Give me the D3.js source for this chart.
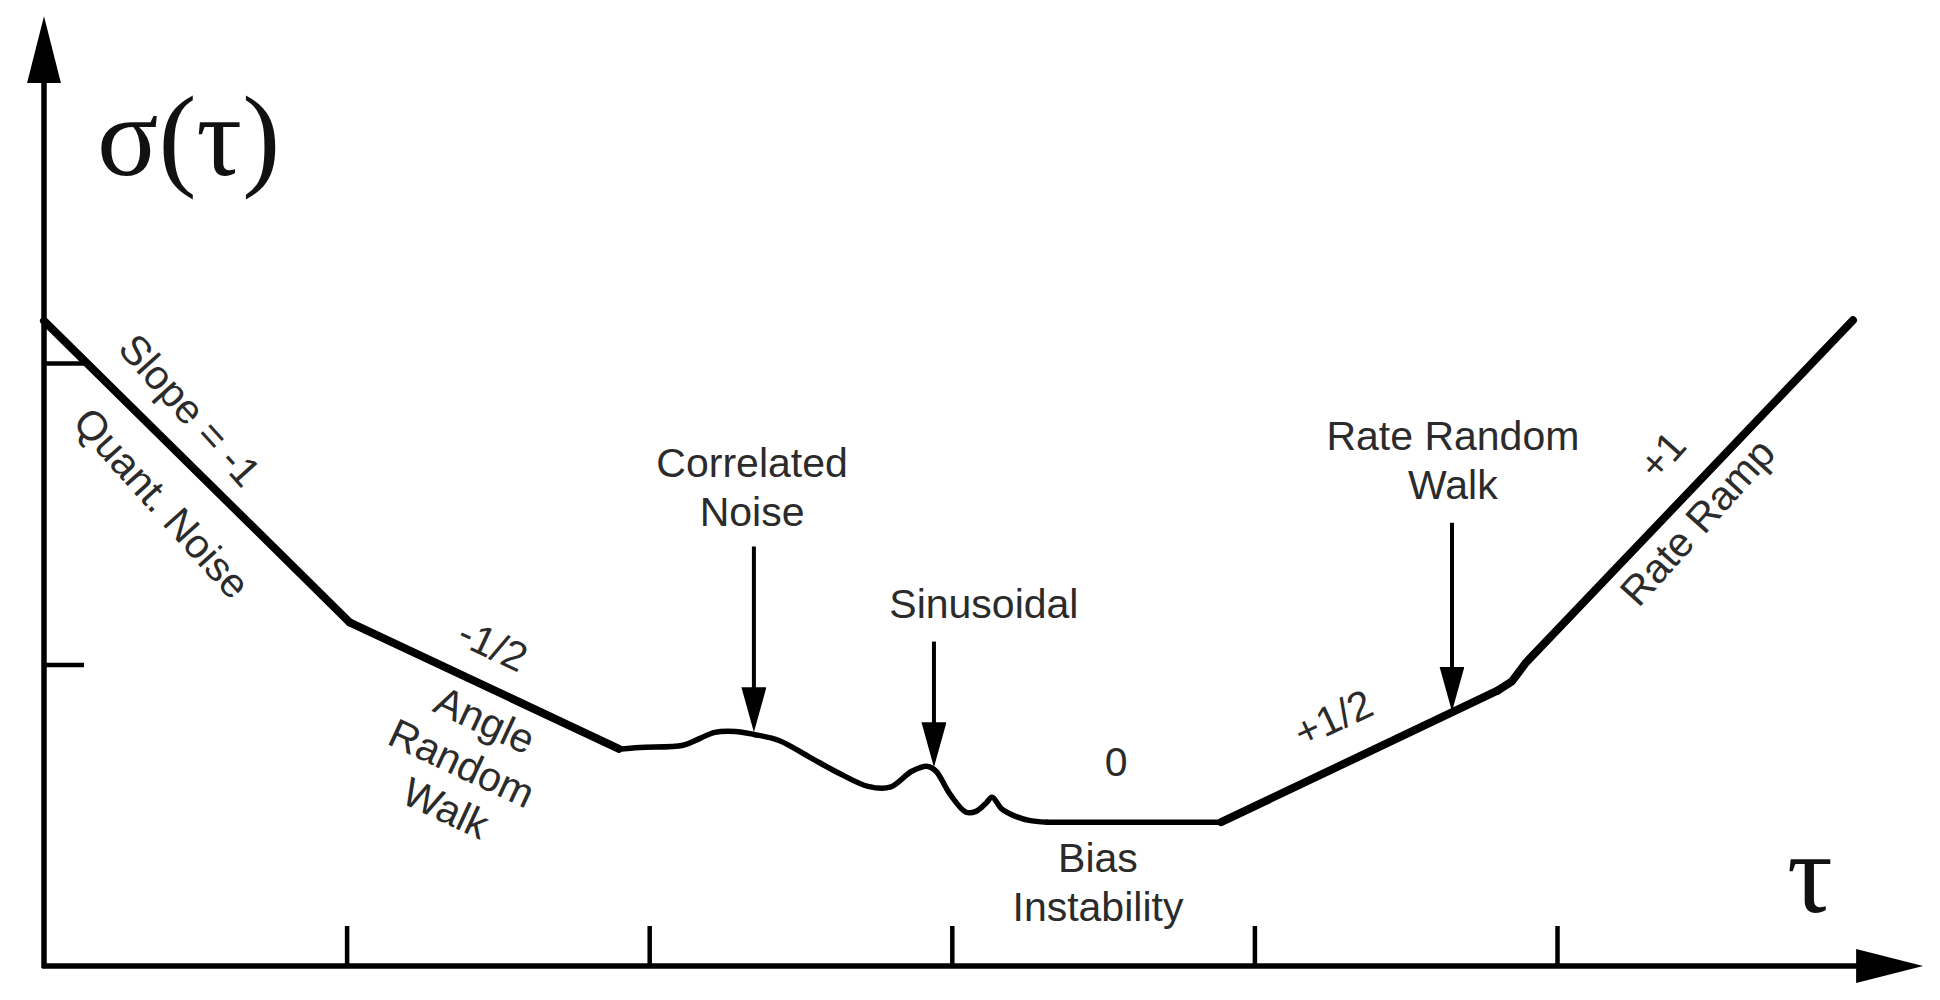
<!DOCTYPE html>
<html>
<head>
<meta charset="utf-8">
<script src="https://cdn.jsdelivr.net/npm/d3@7"></script>
<style>
  body { margin: 0; background: #fff; }
  .lbl { font-family: "Liberation Sans", Arial, Helvetica, sans-serif; font-size: 41px; fill: #2b2b2b; }
  .big { font-family: "Liberation Serif", "Times New Roman", serif; font-size: 114px; fill: #111; }
</style>
</head>
<body>
<svg id="chart" width="1940" height="1000"></svg>
<script>
// every value is in decades: [log10(tau), log10(sigma)]
const xTicks = [1, 2, 3, 4, 5];
const yTicks = [1, 2];
const xEnd = 6.21;   // arrow tip of the tau axis
const yEnd = 3.15;   // arrow tip of the sigma axis

// straight asymptotes (drawn heavy)
const quantNoise = [[0, 2.14], [1.01, 1.14]];
const angleRW = [[1.01, 1.14], [1.90, 0.72]];
const rateRW = [[3.89, 0.477], [4.805, 0.914]];
const rateRamp = [[4.805, 0.914], [4.851, 0.944], [4.898, 1.007], [5.978, 2.142]];

// correlated + sinusoidal bumps and the bias floor (drawn lighter)
const bumpy = [
  [1.897, 0.719], [1.970, 0.725], [2.112, 0.732], [2.168, 0.755], [2.217, 0.775],
  [2.284, 0.778], [2.346, 0.768], [2.429, 0.748], [2.531, 0.692], [2.634, 0.636],
  [2.723, 0.596], [2.796, 0.593], [2.868, 0.646], [2.921, 0.662], [2.948, 0.646],
  [2.994, 0.570], [3.047, 0.510], [3.080, 0.513], [3.113, 0.540], [3.133, 0.560],
  [3.166, 0.520], [3.209, 0.497], [3.255, 0.483], [3.315, 0.477]
];
const biasFloor = [[3.315, 0.477], [3.893, 0.477]];

// pointer arrows: x, top, tip
const pointers = [
  { x: 2.346, top: 1.391, tip: 0.775 },
  { x: 2.941, top: 1.076, tip: 0.659 },
  { x: 4.653, top: 1.470, tip: 0.844 }
];

// upright labels: first baseline at (x, y)
const labels = [
  { lines: ["Correlated", "Noise"], x: 2.34, y: 1.622 },
  { lines: ["Sinusoidal"], x: 3.106, y: 1.154 },
  { lines: ["0"], x: 3.543, y: 0.630 },
  { lines: ["Bias", "Instability"], x: 3.483, y: 0.312 },
  { lines: ["Rate Random", "Walk"], x: 4.656, y: 1.711 }
];

// tilted labels: centred at (x, y)
const slopeLabels = [
  { text: "Slope = -1", x: 0.4825, y: 1.844, angle: 48 },
  { text: "Quant. Noise", x: 0.390, y: 1.536, angle: 48 },
  { text: "-1/2", x: 1.484, y: 1.065, angle: 25 },
  { text: "Angle", x: 1.457, y: 0.816, angle: 25 },
  { text: "Random", x: 1.381, y: 0.673, angle: 25 },
  { text: "Walk", x: 1.328, y: 0.524, angle: 25 },
  { text: "+1/2", x: 4.260, y: 0.823, angle: -25 },
  { text: "+1", x: 5.347, y: 1.695, angle: -48 },
  { text: "Rate Ramp", x: 5.463, y: 1.473, angle: -48 }
];

const svg = d3.select("#chart");

const x = d3.scaleLinear().domain([0, 6]).range([44, 44 + 6 * 302.6]);
const y = d3.scaleLinear().domain([0, 3]).range([966, 966 - 3 * 301.5]);

const line = d3.line().x(d => x(d[0])).y(d => y(d[1]));

// arrowheads
const defs = svg.append("defs");
defs.append("marker")
  .attr("id", "axisHead")
  .attr("markerUnits", "userSpaceOnUse")
  .attr("markerWidth", 70).attr("markerHeight", 36)
  .attr("refX", 2).attr("refY", 17)
  .attr("orient", "auto")
  .append("path").attr("d", "M0,0 L67,17 L0,34 Z").attr("fill", "#000");

defs.append("marker")
  .attr("id", "pointHead")
  .attr("markerUnits", "userSpaceOnUse")
  .attr("markerWidth", 46).attr("markerHeight", 26)
  .attr("refX", 4).attr("refY", 12.5)
  .attr("orient", "auto")
  .append("path").attr("d", "M0,0 L45,12.5 L0,25 Z").attr("fill", "#000");

// axes with inward ticks, no labels
const xAxis = svg.append("g")
  .attr("transform", `translate(0,${y(0)})`)
  .call(d3.axisBottom(x).tickValues(xTicks).tickSize(-40).tickFormat(""));
xAxis.select(".domain").remove();
xAxis.selectAll(".tick line").attr("stroke", "#000").attr("stroke-width", 4.5);

const yAxis = svg.append("g")
  .attr("transform", `translate(${x(0)},0)`)
  .call(d3.axisLeft(y).tickValues(yTicks).tickSize(-40).tickFormat(""));
yAxis.select(".domain").remove();
yAxis.selectAll(".tick line").attr("stroke", "#000").attr("stroke-width", 4.5);

// axis lines stop at the arrow base, the marker reaches the tip
svg.append("line")
  .attr("x1", x(0) - 2).attr("y1", y(0))
  .attr("x2", x(xEnd) - 65).attr("y2", y(0))
  .attr("stroke", "#000").attr("stroke-width", 5.5)
  .attr("marker-end", "url(#axisHead)");

svg.append("line")
  .attr("x1", x(0)).attr("y1", y(0) + 2)
  .attr("x2", x(0)).attr("y2", y(yEnd) + 65)
  .attr("stroke", "#000").attr("stroke-width", 5.5)
  .attr("marker-end", "url(#axisHead)");

// curve
svg.selectAll("path.heavy")
  .data([quantNoise, angleRW, rateRW, rateRamp])
  .enter().append("path")
  .attr("class", "heavy")
  .attr("d", line)
  .attr("fill", "none").attr("stroke", "#000")
  .attr("stroke-width", 8).attr("stroke-linejoin", "round").attr("stroke-linecap", "round");

svg.selectAll("path.light")
  .data([bumpy, biasFloor])
  .enter().append("path")
  .attr("class", "light")
  .attr("d", line.curve(d3.curveCatmullRom))
  .attr("fill", "none").attr("stroke", "#000")
  .attr("stroke-width", 5.5).attr("stroke-linejoin", "round").attr("stroke-linecap", "round");

// pointer arrows
svg.selectAll("line.pointer")
  .data(pointers)
  .enter().append("line")
  .attr("class", "pointer")
  .attr("x1", d => x(d.x)).attr("y1", d => y(d.top))
  .attr("x2", d => x(d.x)).attr("y2", d => y(d.tip) - 41)
  .attr("stroke", "#000").attr("stroke-width", 4)
  .attr("marker-end", "url(#pointHead)");

// labels
labels.forEach(l => {
  const t = svg.append("text")
    .attr("class", "lbl")
    .attr("text-anchor", "middle")
    .attr("x", x(l.x)).attr("y", y(l.y));
  l.lines.forEach((s, i) => {
    t.append("tspan").attr("x", x(l.x)).attr("dy", i === 0 ? 0 : 49).text(s);
  });
});

svg.selectAll("text.slope")
  .data(slopeLabels)
  .enter().append("text")
  .attr("class", "lbl slope")
  .attr("text-anchor", "middle")
  .attr("dy", "0.35em")
  .attr("transform", d => `translate(${x(d.x)},${y(d.y)}) rotate(${d.angle})`)
  .text(d => d.text);

// axis titles
svg.append("text").attr("class", "big")
  .attr("x", x(0.175)).attr("y", y(2.624))
  .text("σ(τ)");

svg.append("text").attr("class", "big")
  .attr("x", x(5.76)).attr("y", y(0.179))
  .text("τ");
</script>
</body>
</html>
